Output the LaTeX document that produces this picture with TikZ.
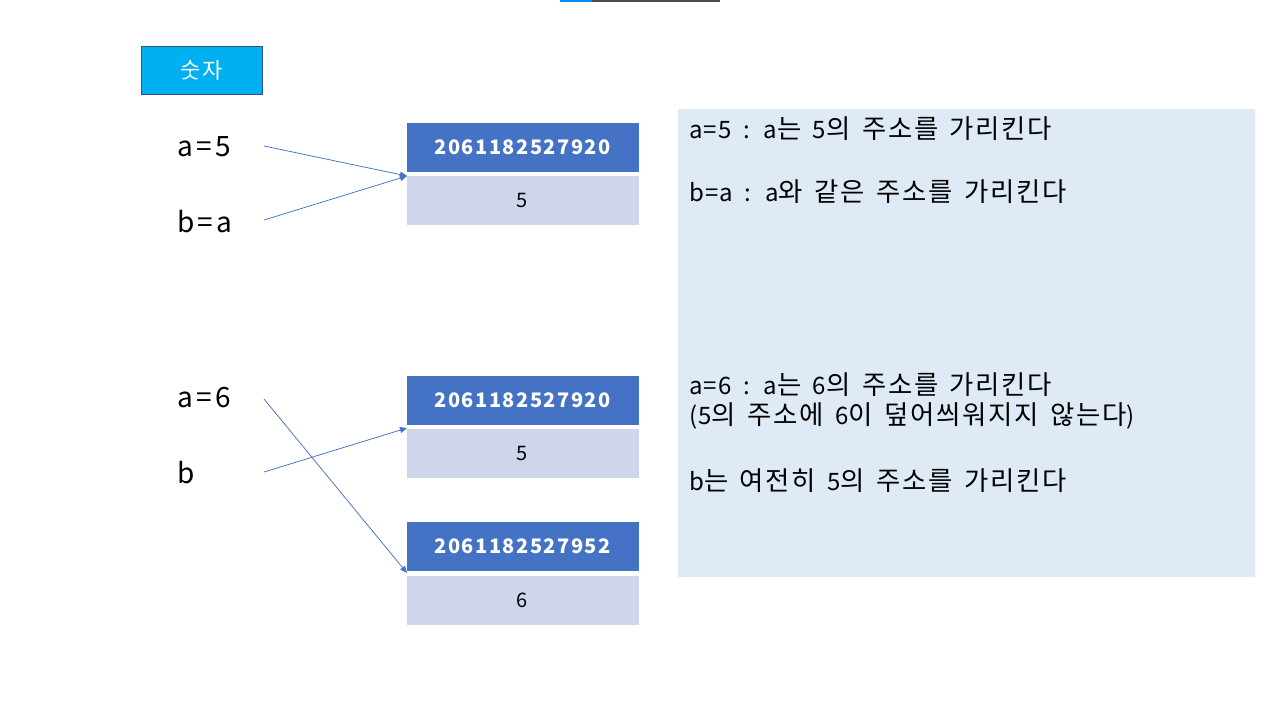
\documentclass[tikz,border=0pt]{standalone}
\usepackage{fontspec}
\setmainfont{Noto Sans CJK KR}
\newfontfamily\notefont{Noto Sans CJK KR}[Scale=1.1, LetterSpace=6.5]
\newfontfamily\notelat{Noto Sans CJK KR}[LetterSpace=5]
\newfontfamily\varfont{Noto Sans CJK KR}[LetterSpace=12]
\newfontfamily\addrfont{Noto Sans CJK KR}[LetterSpace=7.5]
\newfontfamily\tagfont{Noto Sans CJK KR}[LetterSpace=6]
\newcommand\mynotesetup{\notefont\fontsize{24}{28}\selectfont\spaceskip 11.5pt\relax}
\newcommand\lt[1]{{\notelat #1}}
\usetikzlibrary{arrows.meta}
\definecolor{hdr}{HTML}{4472C4}
\definecolor{val}{HTML}{CFD5EA}
\definecolor{panel}{HTML}{DEEAF6}
\definecolor{tag}{HTML}{00B0F0}
\definecolor{tagb}{HTML}{2F528F}
\tikzset{
  addr/.style={fill=hdr, minimum width=232pt, minimum height=49pt, inner sep=0pt, text=white, font=\addrfont\fontsize{20}{24}\selectfont\bfseries},
  valbox/.style={fill=val, minimum width=232pt, minimum height=49pt, inner sep=0pt, font=\addrfont\fontsize{20}{24}\selectfont},
  var/.style={anchor=west, inner sep=0pt, font=\varfont\fontsize{28}{32}\selectfont},
  note/.style={anchor=west, inner sep=0pt, font=\mynotesetup},
  ptr/.style={draw=hdr, line width=0.75pt, -{Triangle[length=7pt,width=6pt]}}
}
\begin{document}
\begin{tikzpicture}[x=1pt,y=-1pt]
\useasboundingbox (0,0) rectangle (1280,720);
\fill[white] (0,0) rectangle (1280,720);
% top line
\fill[tag!80!blue] (560,0) rectangle (592,1.5);
\fill[black!70] (592,0) rectangle (720,1.5);
% tag
\node[fill=tag, draw=tagb, line width=0.75pt, minimum width=121pt, minimum height=48pt, inner sep=0pt, text=white, font=\tagfont\fontsize{22}{26}\selectfont] (tag) at (201.5,70) {숫자};
% panel
\node[fill=panel, minimum width=577pt, minimum height=468pt, inner sep=0pt] (panel) at (966.5,343) {};
% boxes
\node[addr] (h1) at (522.5,147.5) {2061182527920};
\node[valbox] (v1) at (522.5,200.5) {5};
\node[addr] (h2) at (522.5,400.5) {2061182527920};
\node[valbox] (v2) at (522.5,453.5) {5};
\node[addr] (h3) at (522.5,546.5) {2061182527952};
\node[valbox] (v3) at (522.5,600) {6};
% variables
\node[var] (a5) at (177,147) {a=5};
\node[var] (ba) at (177,222) {b=a};
\node[var] (a6) at (177,398) {a=6};
\node[var] (b) at (177,473) {b};
\coordinate (a5e) at (264,146);
\coordinate (bae) at (264,220);
\coordinate (a6e) at (264,399);
\coordinate (be) at (264,472);
\coordinate (t1) at (407,176);
\coordinate (t2) at (407,428);
\coordinate (t3) at (407,573);
\draw[ptr] (a5e) -- (t1);
\draw[ptr] (bae) -- (t1);
\draw[ptr] (a6e) -- (t3);
\draw[ptr] (be) -- (t2);
% notes
\node[note] (n1) at (689,129) {\lt{a=5 : a}는 \lt{5}의 주소를 가리킨다};
\node[note] (n2) at (689,192) {\lt{b=a : a}와 같은 주소를 가리킨다};
\node[note] (n3) at (689,385) {\lt{a=6 : a}는 \lt{6}의 주소를 가리킨다};
\node[note] (n4) at (689,416) {\lt{(5}의 주소에 \lt{6}이 덮어씌워지지 않는다\lt{)}};
\node[note] (n5) at (689,481) {\lt{b}는 여전히 \lt{5}의 주소를 가리킨다};
\end{tikzpicture}
\end{document}
